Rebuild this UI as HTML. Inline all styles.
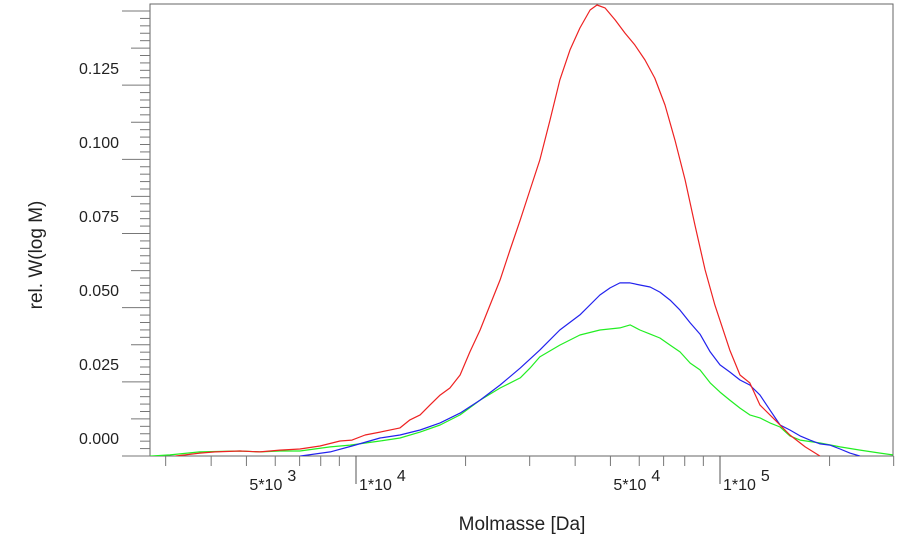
<!DOCTYPE html>
<html><head><meta charset="utf-8"><style>
body{margin:0;background:#fff;}
svg{display:block;font-family:"Liberation Sans",Arial,sans-serif;}
</style></head><body>
<svg id="chart" width="900" height="537" viewBox="0 0 900 537">
<defs><clipPath id="plotclip"><rect x="150" y="4" width="743" height="452"/></clipPath></defs>
<g id="axes"></g>
<g id="series" clip-path="url(#plotclip)"></g>
<text x="42" y="255" transform="rotate(-90 42 255)" text-anchor="middle" font-size="19" fill="#222">rel. W(log M)</text>
<text x="522" y="530" text-anchor="middle" font-size="19" fill="#222">Molmasse [Da]</text>
</svg>
<script>
const yTickValues = [0.000, 0.025, 0.050, 0.075, 0.100, 0.125];
const yTickLabels = ["0.000","0.025","0.050","0.075","0.100","0.125"];
const xMinorTicks = [3000,4000,5000,6000,7000,8000,9000,20000,30000,40000,50000,60000,70000,80000,90000,200000,300000];
const xMajorTicks = [10000,100000];
const xLabelMant = ["5*10","1*10","5*10","1*10"];
const xLabelExp = ["3","4","4","5"];
const xLabelVals = [5000,10000,50000,100000];

const redLogM = [3.503,3.571,3.613,3.681,3.736,3.791,3.846,3.901,3.956,3.989,4.025,4.066,4.121,4.148,4.176,4.203,4.231,4.258,4.286,4.313,4.341,4.368,4.396,4.423,4.451,4.478,4.505,4.533,4.560,4.588,4.615,4.643,4.662,4.684,4.712,4.739,4.766,4.794,4.821,4.849,4.876,4.904,4.931,4.959,4.986,5.027,5.055,5.082,5.110,5.151,5.192,5.234,5.275];
const redW = [-0.0061,-0.0051,-0.0047,-0.0044,-0.0047,-0.0041,-0.0037,-0.0027,-0.0010,-0.0007,0.0010,0.0020,0.0034,0.0061,0.0078,0.0111,0.0145,0.0169,0.0213,0.0291,0.0365,0.0449,0.0534,0.0635,0.0736,0.0838,0.0939,0.1074,0.1209,0.1311,0.1385,0.1446,0.1463,0.1453,0.1412,0.1368,0.1328,0.1277,0.1216,0.1125,0.1007,0.0872,0.0720,0.0568,0.0449,0.0297,0.0213,0.0186,0.0111,0.0061,0.0010,-0.0030,-0.0061];
const blueLogM = [3.846,3.929,3.989,4.066,4.121,4.176,4.231,4.286,4.341,4.396,4.451,4.505,4.560,4.615,4.670,4.698,4.725,4.753,4.780,4.808,4.835,4.863,4.890,4.918,4.945,4.973,5.000,5.027,5.055,5.082,5.110,5.137,5.165,5.192,5.220,5.247,5.275,5.302,5.330,5.357,5.385];
const blueW = [-0.0061,-0.0047,-0.0027,0,0.0010,0.0027,0.0051,0.0084,0.0128,0.0179,0.0236,0.0297,0.0365,0.0416,0.0483,0.0507,0.0524,0.0524,0.0517,0.0510,0.0493,0.0466,0.0432,0.0389,0.0351,0.0291,0.0247,0.0223,0.0196,0.0179,0.0145,0.0095,0.0044,0.0027,0.0007,-0.0007,-0.0020,-0.0024,-0.0037,-0.0051,-0.0061];
const greenLogM = [3.434,3.489,3.571,3.681,3.736,3.791,3.846,3.929,3.984,4.066,4.121,4.176,4.231,4.286,4.341,4.396,4.451,4.478,4.505,4.560,4.615,4.670,4.725,4.753,4.780,4.808,4.835,4.863,4.890,4.918,4.945,4.973,5.000,5.027,5.055,5.082,5.110,5.137,5.165,5.192,5.220,5.275,5.330,5.385,5.440,5.475];
const greenW = [-0.0061,-0.0057,-0.0047,-0.0044,-0.0047,-0.0044,-0.0044,-0.0030,-0.0024,-0.0010,0,0.0020,0.0044,0.0078,0.0128,0.0169,0.0203,0.0236,0.0274,0.0314,0.0348,0.0365,0.0372,0.0382,0.0365,0.0351,0.0338,0.0314,0.0291,0.0253,0.0230,0.0186,0.0155,0.0128,0.0101,0.0078,0.0068,0.0051,0.0037,0.0007,-0.0007,-0.0017,-0.0030,-0.0041,-0.0051,-0.0057];

const NS = "http://www.w3.org/2000/svg";
function xScaleLog(lm){ return 356 + (lm - 4) * 364; }
function xScale(m){ return xScaleLog(Math.log10(m)); }
function yScale(v){ return 438 - v * 2960; }
function mk(tag, attrs, parent){ const e=document.createElementNS(NS,tag); for(const k in attrs) e.setAttribute(k,attrs[k]); parent.appendChild(e); return e; }

const axes = document.getElementById('axes');
// frame
const frame = mk('path',{d:'M150,456 L150,4 L893,4 L893,456 Z',fill:'none',stroke:'#666','stroke-width':1},axes);


// y ticks (pixel grid)
for(let i=0;i<=60;i++){
  const y = 456 - i*(445/60);
  const x1 = (i%10===0)?122:((i%5===0)?131:140);
  const t = mk('line',{x1:x1,x2:150,y1:y,y2:y,stroke:'#777','stroke-width':1},axes);
  
  
}
yTickValues.forEach((v,i)=>{
  const t = mk('text',{x:119,y:yScale(v)+6,'text-anchor':'end','font-size':16,fill:'#222'},axes);
  t.textContent = yTickLabels[i];
  
  
});
xMinorTicks.forEach(m=>{
  const x = xScale(m);
  const t = mk('line',{x1:x,x2:x,y1:456,y2:466,stroke:'#777','stroke-width':1},axes);
  
  
});
xMajorTicks.forEach(m=>{
  const x = xScale(m);
  const t = mk('line',{x1:x,x2:x,y1:456,y2:484,stroke:'#555','stroke-width':1},axes);
  
  
});
xLabelVals.forEach((m,i)=>{
  const x = xScale(m)+3;
  const t = mk('text',{x:x,y:490,'font-size':16,fill:'#222'},axes);
  t.textContent = xLabelMant[i];
  
  
  const s = mk('tspan',{dx:5,dy:-9,'font-size':16},t);
  s.textContent = xLabelExp[i];
});

const series = document.getElementById('series');
function drawLine(lms, ws, color, name){
  let d='';
  lms.forEach((lm,i)=>{ d += (i?'L':'M') + xScaleLog(lm).toFixed(1) + ',' + yScale(ws[i]).toFixed(1); });
  const p = mk('path',{d:d,fill:'none',stroke:color,'stroke-width':1.2,'stroke-linejoin':'round'},series);
  
  
}
drawLine(greenLogM, greenW, '#22ee22', 'green-series-line');
drawLine(blueLogM, blueW, '#2222ee', 'blue-series-line');
drawLine(redLogM, redW, '#ee2222', 'red-series-line');
</script>
</body></html>
